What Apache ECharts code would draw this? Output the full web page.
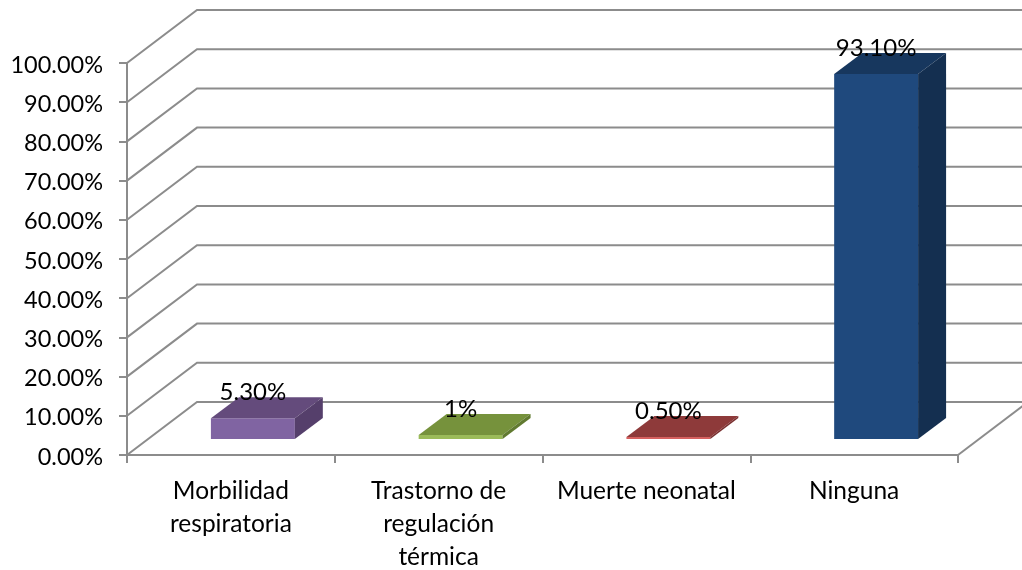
<!DOCTYPE html>
<html><head><meta charset="utf-8">
<style>html,body{margin:0;padding:0;background:#fff}#c{width:1022px;height:570px}</style>
<script src="https://cdn.jsdelivr.net/npm/echarts@6/dist/echarts.min.js"></script>
</head><body><div id="c"></div>
<script>
const categories = ['Morbilidad\nrespiratoria', 'Trastorno de\nregulación\ntérmica', 'Muerte neonatal', 'Ninguna'];
const values = [5.3, 1, 0.5, 93.1];
const valueLabels = ['5.30%', '1%', '0.50%', '93.10%'];
const frontColors = ['#8064a2', '#9bbb59', '#d6605f', '#1f497d'];
const topColors = ['#644b7c', '#76923c', '#8e3a3a', '#17375e'];
const sideColors = ['#553f6b', '#617a30', '#7a3030', '#142f50'];
const gridValues = [0, 10, 20, 30, 40, 50, 60, 70, 80, 90, 100];
const WALL = [70, -53], FLOOR = [22, -16], DEPTH = [28, -21];
const LINE = '#8c8c8c', FONT = 'Lato';

const chart = echarts.init(document.getElementById('c'), null, {renderer: 'canvas'});
chart.setOption({
  animation: false,
  backgroundColor: '#fff',
  grid: {left: 127, right: 64, top: 63, bottom: 115, containLabel: false, outerBoundsMode: 'none'},
  xAxis: {
    type: 'category', data: categories,
    axisLine: {lineStyle: {color: LINE, width: 2}},
    axisTick: {show: true, alignWithLabel: false, length: 8, lineStyle: {color: LINE, width: 2}},
    axisLabel: {color: '#000', fontFamily: FONT, fontSize: 24.5, lineHeight: 33, margin: 20, interval: 0},
    splitLine: {show: false}
  },
  yAxis: {
    type: 'value', min: 0, max: 100, interval: 10,
    axisLine: {show: true, lineStyle: {color: LINE, width: 2}},
    axisTick: {show: true, length: 8, lineStyle: {color: LINE, width: 2}},
    axisLabel: {
      fontFamily: FONT, margin: 24,
      formatter: v => '{t|' + v.toFixed(2) + '%}',
      rich: {t: {color: '#000', fontFamily: FONT, fontSize: 23.5, padding: [4, 0, 0, 0]}}
    },
    splitLine: {show: false}
  },
  series: [
    {
      type: 'custom', clip: false, z: 1, silent: true,
      data: gridValues.map(v => [0, v]),
      renderItem(params, api) {
        const y = api.coord([0, api.value(1)])[1];
        const r = params.coordSys;
        const x0 = r.x, x1 = r.x + r.width;
        const style = {stroke: LINE, lineWidth: 2, fill: null};
        const kids = [{type: 'polyline', shape: {points: [[x0, y], [x0 + WALL[0], y + WALL[1]], [x1 + WALL[0], y + WALL[1]]]}, style}];
        if (api.value(1) === 0) {
          kids.push({type: 'line', shape: {x1, y1: y, x2: x1 + WALL[0], y2: y + WALL[1]}, style});
        }
        return {type: 'group', children: kids};
      }
    },
    {
      type: 'custom', clip: false, z: 2, silent: true,
      data: values.map((v, i) => [i, v]),
      renderItem(params, api) {
        const i = params.dataIndex;
        const c = api.coord([i, api.value(1)]);
        const base = api.coord([i, 0]);
        const w = api.size([1, 0])[0] * 0.404;
        const l = c[0] - w / 2 + FLOOR[0], r = l + w;
        const b = base[1] + FLOOR[1], t = c[1] + FLOOR[1];
        const dx = DEPTH[0], dy = DEPTH[1];
        return {type: 'group', children: [
          {type: 'polygon', shape: {points: [[l, t], [r, t], [r, b], [l, b]]}, style: {fill: frontColors[i]}},
          {type: 'polygon', shape: {points: [[l, t], [r, t], [r + dx, t + dy], [l + dx, t + dy]]}, style: {fill: topColors[i]}},
          {type: 'polygon', shape: {points: [[r, t], [r + dx, t + dy], [r + dx, b + dy], [r, b]]}, style: {fill: sideColors[i]}}
        ]};
      }
    },
    {
      type: 'custom', clip: false, z: 3, silent: true,
      data: values.map((v, i) => [i, v]),
      renderItem(params, api) {
        const i = params.dataIndex;
        const c = api.coord([i, api.value(1)]);
        return {type: 'text', style: {
          text: valueLabels[i], x: c[0] + FLOOR[0], y: c[1] + FLOOR[1] - 26,
          fill: '#000', font: '24px ' + FONT, align: 'center', verticalAlign: 'middle'
        }};
      }
    }
  ]
});
</script></body></html>
